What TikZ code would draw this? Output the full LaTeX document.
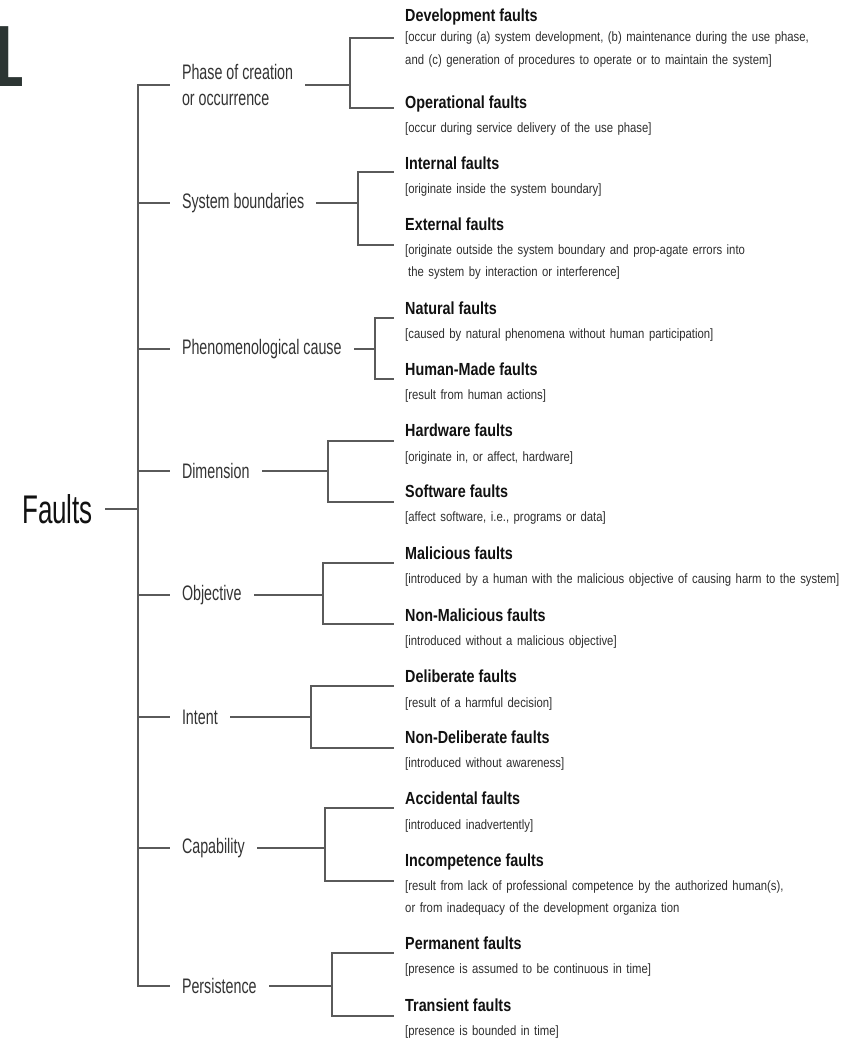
\documentclass[tikz,border=0pt]{standalone}
\usepackage{fontspec}
\setmainfont{Liberation Sans}
\newfontfamily\catfont{Liberation Sans}[FakeStretch=0.68]
\newfontfamily\ttlfont{Liberation Sans}[FakeStretch=0.82]
\newfontfamily\dscfont{Liberation Sans}[FakeStretch=0.84]
\newfontfamily\rootfont{Liberation Sans}[FakeStretch=0.65]

\definecolor{conncol}{HTML}{5A5A5A}
\definecolor{catcol}{HTML}{333333}
\definecolor{ttlcol}{HTML}{111111}
\definecolor{dsccol}{HTML}{2E2E2E}
\definecolor{numcol}{HTML}{2C3533}

\tikzset{
  conn/.style={draw=conncol, line width=1.6pt, line cap=rect},
  cat/.style={font=\catfont\fontsize{21}{26}\selectfont, text=catcol,
              inner xsep=0pt, inner ysep=1pt, outer xsep=13pt, anchor=west, align=left},
  rootlabel/.style={font=\rootfont\fontsize{40}{44}\selectfont, text=ttlcol,
              inner xsep=0pt, inner ysep=1pt, outer xsep=13pt, anchor=east},
  ttl/.style={font=\ttlfont\bfseries\fontsize{17.5}{20}\selectfont, text=ttlcol,
              inner sep=0pt, anchor=base west},
  dsc/.style={font=\dscfont\fontsize{13.5}{22}\selectfont, text=dsccol,
              inner sep=0pt, anchor=base west, text width=440pt, align=left},
  bignum/.style={font=\bfseries\fontsize{87}{90}\selectfont, text=numcol,
              inner sep=0pt, anchor=base west}
}

\begin{document}
\begin{tikzpicture}[x=1pt,y=-1pt]
\fill[white] (0,0) rectangle (850,1041);
\useasboundingbox (0,0) rectangle (850,1041);

% figure number
\node[bignum] (num) at (-24,86) {1};

% root
\node[rootlabel] (faults) at (106,509) {Faults};

% category labels
\node[cat] (c1) at (169,85)  {Phase of creation\\or occurrence};
\node[cat] (c2) at (169,203) {System boundaries};
\node[cat] (c3) at (169,349) {Phenomenological cause};
\node[cat] (c4) at (169,471) {Dimension};
\node[cat] (c5) at (169,595) {Objective};
\node[cat] (c6) at (169,717) {Intent};
\node[cat] (c7) at (169,848) {Capability};
\node[cat] (c8) at (169,986) {Persistence};

% trunk junctions
\coordinate (j1) at (138,85);
\coordinate (j2) at (138,203);
\coordinate (j3) at (138,349);
\coordinate (j4) at (138,471);
\coordinate (j5) at (138,595);
\coordinate (j6) at (138,717);
\coordinate (j7) at (138,848);
\coordinate (j8) at (138,986);
\coordinate (jf) at (138,509);

% bracket junctions
\coordinate (k1) at (350,85);
\coordinate (k2) at (358,203);
\coordinate (k3) at (375,349);
\coordinate (k4) at (328,471);
\coordinate (k5) at (323,595);
\coordinate (k6) at (311,717);
\coordinate (k7) at (325,848);
\coordinate (k8) at (332,986);

% leaf ends
\coordinate (e1a) at (393,38);   \coordinate (e1b) at (393,108);
\coordinate (e2a) at (393,172);  \coordinate (e2b) at (393,245);
\coordinate (e3a) at (393,318);  \coordinate (e3b) at (393,379);
\coordinate (e4a) at (393,441);  \coordinate (e4b) at (393,502);
\coordinate (e5a) at (393,563);  \coordinate (e5b) at (393,624);
\coordinate (e6a) at (393,686);  \coordinate (e6b) at (393,748);
\coordinate (e7a) at (393,808);  \coordinate (e7b) at (393,881);
\coordinate (e8a) at (393,953);  \coordinate (e8b) at (393,1016);

% connectors
\draw[conn] (j1) -- (j8);
\draw[conn] (faults) -- (jf);
\foreach \i in {1,...,8}{
  \draw[conn] (j\i) -- (c\i);
  \draw[conn] (c\i) -- (k\i);
  \draw[conn] (e\i a) -| (k\i) |- (e\i b);
}

% leaves
\node[ttl] (t1a) at (405,22)  {Development faults};
\node[dsc] (d1a) at (405,42)  {[occur during (a) system development, (b) maintenance during the use phase,\\and (c) generation of procedures to operate or to maintain the system]};
\node[ttl] (t1b) at (405,108) {Operational faults};
\node[dsc] (d1b) at (405,132) {[occur during service delivery of the use phase]};

\node[ttl] (t2a) at (405,169) {Internal faults};
\node[dsc] (d2a) at (405,193) {[originate inside the system boundary]};
\node[ttl] (t2b) at (405,230) {External faults};
\node[dsc] (d2b) at (405,254) {[originate outside the system boundary and prop-agate errors into\\\hspace*{3pt}the system by interaction or interference]};

\node[ttl] (t3a) at (405,314) {Natural faults};
\node[dsc] (d3a) at (405,338) {[caused by natural phenomena without human participation]};
\node[ttl] (t3b) at (405,375) {Human-Made faults};
\node[dsc] (d3b) at (405,399) {[result from human actions]};

\node[ttl] (t4a) at (405,436) {Hardware faults};
\node[dsc] (d4a) at (405,461) {[originate in, or affect, hardware]};
\node[ttl] (t4b) at (405,497) {Software faults};
\node[dsc] (d4b) at (405,521) {[affect software, i.e., programs or data]};

\node[ttl] (t5a) at (405,559) {Malicious faults};
\node[dsc] (d5a) at (405,583) {[introduced by a human with the malicious objective of causing harm to the system]};
\node[ttl] (t5b) at (405,621) {Non-Malicious faults};
\node[dsc] (d5b) at (405,645) {[introduced without a malicious objective]};

\node[ttl] (t6a) at (405,682) {Deliberate faults};
\node[dsc] (d6a) at (405,707) {[result of a harmful decision]};
\node[ttl] (t6b) at (405,743) {Non-Deliberate faults};
\node[dsc] (d6b) at (405,767) {[introduced without awareness]};

\node[ttl] (t7a) at (405,804) {Accidental faults};
\node[dsc] (d7a) at (405,829) {[introduced inadvertently]};
\node[ttl] (t7b) at (405,866) {Incompetence faults};
\node[dsc] (d7b) at (405,890) {[result from lack of professional competence by the authorized human(s),\\or from inadequacy of the development organiza tion};

\node[ttl] (t8a) at (405,949) {Permanent faults};
\node[dsc] (d8a) at (405,973) {[presence is assumed to be continuous in time]};
\node[ttl] (t8b) at (405,1011) {Transient faults};
\node[dsc] (d8b) at (405,1035) {[presence is bounded in time]};
\end{tikzpicture}
\end{document}
